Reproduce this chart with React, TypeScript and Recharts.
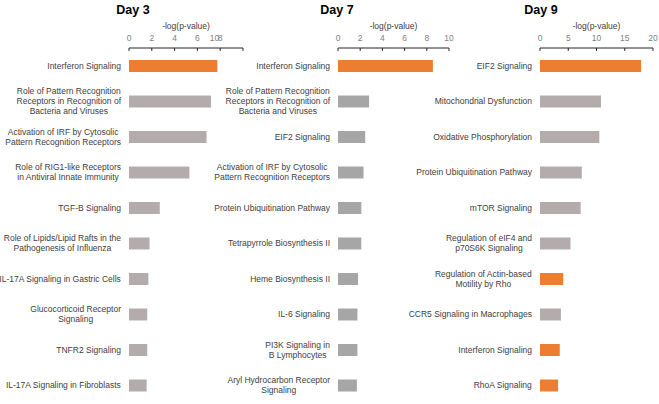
import React from 'react';
import { BarChart, Bar, XAxis, YAxis, Cell } from 'recharts';

const day3Categories = [
    'Interferon Signaling',
    'Role of Pattern Recognition\nReceptors in Recognition of\nBacteria and Viruses',
    'Activation of IRF by Cytosolic\nPattern Recognition Receptors',
    'Role of RIG1-like Receptors\nin Antiviral Innate Immunity',
    'TGF-B Signaling',
    'Role of Lipids/Lipid Rafts in the\nPathogenesis of Influenza',
    'IL-17A Signaling in Gastric Cells',
    'Glucocorticoid Receptor\nSignaling',
    'TNFR2 Signaling',
    'IL-17A Signaling in Fibroblasts',
];
const day3Values = [7.75, 7.2, 6.8, 5.3, 2.7, 1.8, 1.7, 1.6, 1.6, 1.55];
const day3Highlight = [true, false, false, false, false, false, false, false, false, false];
const day3Ticks = [0, 2, 4, 6, 8, 10];

const day7Categories = [
    'Interferon Signaling',
    'Role of Pattern Recognition\nReceptors in Recognition of\nBacteria and Viruses',
    'EIF2 Signaling',
    'Activation of IRF by Cytosolic\nPattern Recognition Receptors',
    'Protein Ubiquitination Pathway',
    'Tetrapyrrole Biosynthesis II',
    'Heme Biosynthesis II',
    'IL-6 Signaling',
    'PI3K Signaling in\nB Lymphocytes',
    'Aryl Hydrocarbon Receptor\nSignaling',
];
const day7Values = [8.55, 2.8, 2.45, 2.3, 2.1, 2.1, 1.8, 1.75, 1.75, 1.7];
const day7Highlight = [true, false, false, false, false, false, false, false, false, false];
const day7Ticks = [0, 2, 4, 6, 8, 10];

const day9Categories = [
    'EIF2 Signaling',
    'Mitochondrial Dysfunction',
    'Oxidative Phosphorylation',
    'Protein Ubiquitination Pathway',
    'mTOR Signaling',
    'Regulation of eIF4 and\np70S6K Signaling',
    'Regulation of Actin-based\nMotility by Rho',
    'CCR5 Signaling in Macrophages',
    'Interferon Signaling',
    'RhoA Signaling',
];
const day9Values = [17.9, 10.8, 10.5, 7.4, 7.2, 5.4, 4.1, 3.7, 3.5, 3.2];
const day9Highlight = [true, false, false, false, false, false, true, false, true, true];
const day9Ticks = [0, 5, 10, 15, 20];

const ORANGE = '#ED7D31';
const FONT = '"Liberation Sans", Arial, sans-serif';
const LABEL_SIZE = 8.5;
const LINE_H = 9.8;

const measureCtx = typeof document !== 'undefined' ? document.createElement('canvas').getContext('2d') : null;
const textWidth = (s: string) => {
    if (!measureCtx) return s.length * 4.4;
    measureCtx.font = `${LABEL_SIZE}px ${FONT}`;
    return measureCtx.measureText(s).width;
};

// multi-line category label: block ends at x, lines centred inside the block
const CategoryTick = (props: any) => {
    const { x, y, payload } = props;
    const lines = String(payload.value).split('\n');
    const blockW = Math.max(...lines.map(textWidth));
    const cx = x - blockW / 2;
    const y0 = y - ((lines.length - 1) * LINE_H) / 2;
    return (
        <text textAnchor="middle" fontSize={LABEL_SIZE} fontFamily={FONT} fill="#404040">
            {lines.map((l, i) => (
                <tspan key={i} x={cx} y={y0 + i * LINE_H} dy="0.35em">
                    {l}
                </tspan>
            ))}
        </text>
    );
};

const makeValueTick = (shift: Record<number, number>) => (props: any) => {
    const { x, y, payload } = props;
    const dx = shift[payload.value] || 0;
    return (
        <g>
            <line x1={x} x2={x} y1={y} y2={y + 3} stroke="#262626" strokeWidth={1} />
            <text x={x + dx} y={y - 7} textAnchor="middle" fontSize={LABEL_SIZE} fontFamily={FONT} fill="#7f7f7f">
                {payload.value}
            </text>
        </g>
    );
};

type PanelProps = {
    title: string;
    categories: string[];
    values: number[];
    highlight: boolean[];
    ticks: number[];
    gray: string;
    left: number;
    width: number;
    labelWidth: number;
    labelGap: number;
    rightMargin: number;
    titleX: number;
    tickShift?: Record<number, number>;
};

const Panel: React.FC<PanelProps> = (p) => {
    const data = p.categories.map((name, i) => ({ name, value: p.values[i] }));
    const rows = p.categories.map((_, i) => i);
    const plotLeft = p.left + p.labelWidth;
    const plotRight = p.left + p.width - p.rightMargin;
    const ValueTick = makeValueTick(p.tickShift || {});
    return (
        <>
            <div
                style={{
                    position: 'absolute',
                    left: p.titleX - 40,
                    width: 80,
                    top: 2,
                    textAlign: 'center',
                    fontFamily: FONT,
                    fontWeight: 'bold',
                    fontSize: 12.5,
                    lineHeight: '16px',
                    color: '#000',
                }}
            >
                {p.title}
            </div>
            <div
                style={{
                    position: 'absolute',
                    left: plotLeft,
                    width: plotRight - plotLeft,
                    top: 20,
                    textAlign: 'center',
                    fontFamily: FONT,
                    fontSize: LABEL_SIZE,
                    lineHeight: '12px',
                    color: '#404040',
                }}
            >
                -log(p-value)
            </div>
            <div style={{ position: 'absolute', left: p.left, top: 0 }}>
                <BarChart
                    layout="vertical"
                    width={p.width}
                    height={404}
                    data={data}
                    margin={{ top: 28, right: p.rightMargin, left: 0, bottom: 1 }}
                >
                    <XAxis
                        type="number"
                        orientation="top"
                        xAxisId="v"
                        domain={[p.ticks[0], p.ticks[p.ticks.length - 1]]}
                        ticks={p.ticks}
                        interval={0}
                        height={20}
                        tickSize={0}
                        tickMargin={0}
                        tickLine={false}
                        axisLine={{ stroke: '#262626', strokeWidth: 1 }}
                        tick={<ValueTick />}
                    />
                    <YAxis
                        yAxisId="a"
                        type="number"
                        domain={[0, rows.length]}
                        ticks={[...rows, rows.length]}
                        interval={0}
                        width={0}
                        tick={false}
                        tickSize={4}
                        tickLine={{ stroke: '#404040', strokeWidth: 1 }}
                        axisLine={{ stroke: '#595959', strokeWidth: 2 }}
                    />
                    <YAxis
                        yAxisId="b"
                        type="category"
                        dataKey="name"
                        width={p.labelWidth}
                        interval={0}
                        tickSize={0}
                        tickMargin={p.labelGap}
                        tickLine={false}
                        axisLine={false}
                        tick={<CategoryTick />}
                    />
                    <Bar dataKey="value" xAxisId="v" yAxisId="b" barSize={12} isAnimationActive={false}>
                        {data.map((d, i) => (
                            <Cell key={d.name} fill={p.highlight[i] ? ORANGE : p.gray} />
                        ))}
                    </Bar>
                </BarChart>
            </div>
        </>
    );
};

export default function App() {
    return (
        <div style={{ position: 'absolute', left: 0, top: 0, width: 659, height: 404, background: '#fff' }}>
            <style>{'svg.recharts-surface { overflow: visible; }'}</style>
            <Panel
                title="Day 3"
                categories={day3Categories}
                values={day3Values}
                highlight={day3Highlight}
                ticks={day3Ticks}
                gray="#B4ACAC"
                left={0}
                width={250}
                labelWidth={129}
                labelGap={8}
                rightMargin={7}
                titleX={133}
                tickShift={{ 10: -28.5 }}
            />
            <Panel
                title="Day 7"
                categories={day7Categories}
                values={day7Values}
                highlight={day7Highlight}
                ticks={day7Ticks}
                gray="#A6A6A6"
                left={215}
                width={245}
                labelWidth={123}
                labelGap={8}
                rightMargin={11}
                titleX={337}
            />
            <Panel
                title="Day 9"
                categories={day9Categories}
                values={day9Values}
                highlight={day9Highlight}
                ticks={day9Ticks}
                gray="#B4ACAC"
                left={425}
                width={234}
                labelWidth={115}
                labelGap={8}
                rightMargin={6}
                titleX={541}
            />
        </div>
    );
}
